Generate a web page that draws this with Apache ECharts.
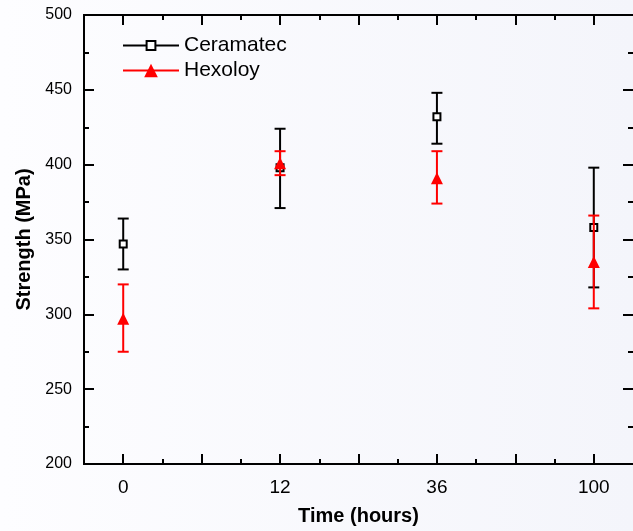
<!DOCTYPE html>
<html><head><meta charset="utf-8">
<script src="https://cdn.jsdelivr.net/npm/echarts@6/dist/echarts.min.js"></script>
<style>html,body{margin:0;padding:0;background:#fafaff}#c{width:633px;height:531px}</style>
</head><body><div id="c"></div>
<script>
const categories = ['0', '12', '36', '100'];
const ceramatecMean = [347, 398, 432, 358];
const ceramatecLow = [330, 371, 414, 318];
const ceramatecHigh = [364, 424, 448, 398];
const hexoloyMean = [297, 401, 391, 335];
const hexoloyLow = [275, 393, 374, 304];
const hexoloyHigh = [320, 409, 409, 366];
const majorX = [0, 0.5, 1, 1.5, 2, 2.5, 3];
const minorX = [0.25, 0.75, 1.25, 1.75, 2.25, 2.75];

const FONT = 'Liberation Sans, Arial, sans-serif';
const chart = echarts.init(document.getElementById('c'), null, {renderer: 'canvas'});

function pts(vals) { return vals.map((v, i) => [i, v]); }
function bars(lo, hi) { return lo.map((v, i) => [i, v, hi[i]]); }
function errorRender(color) {
  return function (params, api) {
    const x = api.value(0), lo = api.value(1), hi = api.value(2);
    const a = api.coord([x, lo]), b = api.coord([x, hi]);
    const w = 5.5;
    const style = {stroke: color, lineWidth: 2};
    return {type: 'group', children: [
      {type: 'line', shape: {x1: a[0], y1: a[1], x2: b[0], y2: b[1]}, style: style},
      {type: 'line', shape: {x1: a[0] - w, y1: a[1], x2: a[0] + w, y2: a[1]}, style: style},
      {type: 'line', shape: {x1: b[0] - w, y1: b[1], x2: b[0] + w, y2: b[1]}, style: style}
    ]};
  };
}

function axLine(show) { return {show: show, onZero: false, lineStyle: {color: '#000', width: 2}}; }
function xAx(pos, ticks, len, labels) {
  return {
    type: 'value', position: pos, min: -0.25, max: 3.25, gridIndex: 0,
    axisLine: axLine(true), splitLine: {show: false},
    axisTick: {show: true, inside: true, length: len, customValues: ticks, lineStyle: {color: '#000', width: 2}},
    axisLabel: labels ? {show: true, customValues: [0, 1, 2, 3], formatter: v => categories[Math.round(v)],
      fontSize: 19, color: '#000', fontFamily: FONT, margin: 14} : {show: false},
    name: labels ? 'Time (hours)' : '', nameLocation: 'middle', nameGap: 42,
    nameTextStyle: {fontSize: 20, fontWeight: 'bold', color: '#000', fontFamily: FONT}
  };
}
function yAx(pos, labels) {
  return {
    type: 'value', position: pos, min: 200, max: 500, interval: 50, gridIndex: 0,
    axisLine: axLine(labels), splitLine: {show: false},
    axisTick: {show: true, inside: true, length: 10, lineStyle: {color: '#000', width: 2}},
    minorTick: {show: true, splitNumber: 2, length: 5, lineStyle: {color: '#000', width: 2}},
    minorSplitLine: {show: false},
    axisLabel: labels ? {show: true, fontSize: 16, color: '#000', fontFamily: FONT, margin: 12} : {show: false},
    name: labels ? 'Strength (MPa)' : '', nameLocation: 'middle', nameGap: 50,
    nameTextStyle: {fontSize: 20, fontWeight: 'bold', color: '#000', fontFamily: FONT}
  };
}

const option = {
  animation: false,
  backgroundColor: {type: 'linear', x: 0, y: 0, x2: 1, y2: 0,
    colorStops: [{offset: 0, color: '#fdfdff'}, {offset: 1, color: '#f4f5fb'}]},
  grid: {left: 84, top: 15, width: 550, height: 451},
  xAxis: [xAx('bottom', majorX, 10, true), xAx('bottom', minorX, 5, false),
          xAx('top', majorX, 10, false), xAx('top', minorX, 5, false)],
  yAxis: [yAx('left', true), yAx('right', false)],
  legend: [
    {data: ['Ceramatec'], left: 122, top: 35, padding: 0, orient: 'vertical', itemWidth: 56, itemHeight: 11,
     textStyle: {fontSize: 21, color: '#000', fontFamily: FONT},
     lineStyle: {color: '#000', width: 2, opacity: 1},
     itemStyle: {color: '#fff', borderColor: '#000', borderWidth: 2}},
    {data: ['Hexoloy'], left: 122, top: 60, padding: 0, orient: 'vertical', itemWidth: 56, itemHeight: 17,
     textStyle: {fontSize: 21, color: '#000', fontFamily: FONT},
     lineStyle: {color: '#ff0000', width: 2, opacity: 1},
     itemStyle: {color: '#ff0000'}}
  ],
  series: [
    {type: 'custom', name: 'CeramatecErr', data: bars(ceramatecLow, ceramatecHigh), renderItem: errorRender('#000'),
     encode: {x: 0, y: [1, 2]}, z: 2, silent: true},
    {type: 'line', name: 'Ceramatec', data: pts(ceramatecMean), symbol: 'rect', symbolSize: 7, showSymbol: true,
     itemStyle: {color: '#fff', borderColor: '#000', borderWidth: 2},
     lineStyle: {opacity: 0, color: '#000'}, z: 3},
    {type: 'custom', name: 'HexoloyErr', data: bars(hexoloyLow, hexoloyHigh), renderItem: errorRender('#ff0000'),
     encode: {x: 0, y: [1, 2]}, z: 4, silent: true},
    {type: 'line', name: 'Hexoloy', data: pts(hexoloyMean), symbol: 'triangle', symbolSize: 12, showSymbol: true,
     itemStyle: {color: '#ff0000'}, lineStyle: {opacity: 0, color: '#ff0000'}, z: 5}
  ]
};
chart.setOption(option);
</script></body></html>
